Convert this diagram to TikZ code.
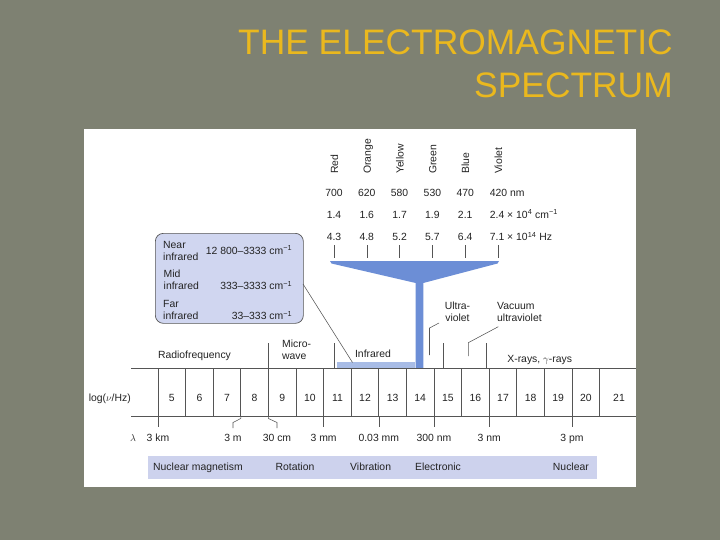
\documentclass[tikz,border=0pt]{standalone}
\usepackage{fontspec}
\setmainfont{Liberation Sans}
\definecolor{bg}{RGB}{126,129,114}
\definecolor{titlegold}{RGB}{234,184,30}
\definecolor{funnelblue}{RGB}{108,142,214}
\definecolor{irbar}{RGB}{168,188,230}
\definecolor{boxfill}{RGB}{208,214,240}
\definecolor{barfill}{RGB}{205,210,237}
\definecolor{ink}{RGB}{35,35,35}
\definecolor{rule}{RGB}{85,85,85}
\begin{document}
\begin{tikzpicture}[x=1pt,y=-1pt,
  every node/.style={inner sep=0pt,text=ink},
  lbl/.style={font=\fontsize{10.4}{12.3}\selectfont},
  titletext/.style={font=\fontsize{35.4}{42}\selectfont,text=titlegold},
  scaleline/.style={draw=rule,line width=0.7pt},
  thinline/.style={draw=rule,line width=0.55pt},
  collbl/.style={lbl,rotate=90,anchor=west,text height=7pt,text depth=2pt}]
% background and panel
\fill[bg] (0,0) rectangle (720,540);
\fill[white] (83.5,129.5) rectangle (636,487);
\useasboundingbox (0,0) rectangle (720,540);
% title
\node[titletext,anchor=base east] (title1) at (673,55) {THE ELECTROMAGNETIC};
\node[titletext,anchor=base east] (title2) at (673,98) {SPECTRUM};
% funnel
\fill[funnelblue] (330,261) -- (499,261) -- (497.5,263.5) -- (423.3,283) -- (423.3,368)
  -- (415.7,368) -- (415.7,283) -- (331.5,263.5) -- cycle;
% colour ticks and labels
\foreach \i/\c in {0/Red,1/Orange,2/Yellow,3/Green,4/Blue,5/Violet}{
  \coordinate (ctop\i) at (334+32.8*\i,245);
  \coordinate (cbot\i) at (334+32.8*\i,258);
  \draw[thinline] (ctop\i) -- (cbot\i);
  \node[collbl] (col\i) at (335.5+32.8*\i,174) {\c};
}
\foreach \i/\a/\b/\c in {0/700/1.4/4.3,1/620/1.6/4.8,2/580/1.7/5.2,3/530/1.9/5.7,4/470/2.1/6.4}{
  \node[lbl,anchor=base] (nm\i) at (334+32.8*\i,196.3) {\a};
  \node[lbl,anchor=base] (cm\i) at (334+32.8*\i,218.6) {\b};
  \node[lbl,anchor=base] (hz\i) at (334+32.8*\i,240.8) {\c};
}
\node[lbl,anchor=base west] (nm5) at (489.7,196.3) {420 nm};
\node[lbl,anchor=base west] (cm5) at (489.7,218.6) {2.4 × 10\textsuperscript{4} cm\textsuperscript{−1}};
\node[lbl,anchor=base west] (hz5) at (489.7,240.8) {7.1 × 10\textsuperscript{14} Hz};
% infrared box
\node[draw=rule,line width=0.7pt,fill=boxfill,rounded corners=8pt,minimum width=148pt,
  minimum height=90pt,anchor=north west] (irbox) at (155,233) {};
\node[lbl,align=left,anchor=base west] (near) at (163,260.6) {Near\\infrared};
\node[lbl,anchor=base east] (nearval) at (292.3,254.2) {12 800–3333 cm\textsuperscript{−1}};
\node[lbl,align=left,anchor=base west] (mid) at (163.5,289.6) {Mid\\infrared};
\node[lbl,anchor=base east] (midval) at (292.3,289.9) {333–3333 cm\textsuperscript{−1}};
\node[lbl,align=left,anchor=base west] (far) at (163,319.6) {Far\\infrared};
\node[lbl,anchor=base east] (farval) at (292.3,319.9) {33–333 cm\textsuperscript{−1}};
% infrared bar and connector
\node[fill=irbar,minimum width=78pt,minimum height=5.5pt,anchor=south west] (irbarn) at (337,368) {};
\coordinate (irstart) at (303,284);
\coordinate (irend) at (352.5,362.5);
\draw[thinline] (irstart) -- (irend);
% scale
\coordinate (axTL) at (131,368); \coordinate (axTR) at (636,368);
\coordinate (axBL) at (131,416); \coordinate (axBR) at (636,416);
\draw[scaleline] (axTL) -- (axTR);
\draw[scaleline] (axBL) -- (axBR);
\foreach \k in {0,...,16}{
  \coordinate (dt\k) at (158+27.6*\k,368);
  \coordinate (db\k) at (158+27.6*\k,416);
  \draw[scaleline] (dt\k) -- (db\k);
}
\foreach \k [evaluate=\k as \n using int(\k+5)] in {0,...,15}{
  \node[lbl,anchor=base] (num\n) at (171.8+27.6*\k,401.6) {\n};
}
\node[lbl,anchor=base] (num21) at (619,401.6) {21};
\node[lbl,anchor=base east] (logaxis) at (131,401.6) {log($\nu$/Hz)};
% region labels above
\foreach \x [count=\j] in {268.4,334,443.3,486}{
  \coordinate (vt\j) at (\x,343);
  \coordinate (vb\j) at (\x,368);
  \draw[thinline] (vt\j) -- (vb\j);
}
\node[lbl,anchor=base] (radio) at (194.5,358.6) {Radiofrequency};
\node[lbl,align=left,anchor=base west] (micro) at (282,359.6) {Micro-\\wave};
\node[lbl,anchor=base] (infra) at (373,357.6) {Infrared};
\node[lbl,align=center,anchor=base] (uv) at (457.5,321.9) {Ultra-\\violet};
\node[lbl,align=left,anchor=base west] (vuv) at (497,321.9) {Vacuum\\ultraviolet};
\node[lbl,anchor=base] (xray) at (539.7,362.6) {X-rays, $\gamma$-rays};
\coordinate (uv1) at (439,323); \coordinate (uv2) at (429.5,328); \coordinate (uv3) at (429.5,355);
\draw[thinline] (uv1) -- (uv2) -- (uv3);
\coordinate (vuv1) at (498.3,326.7); \coordinate (vuv2) at (468.3,342.7); \coordinate (vuv3) at (468.3,356);
\draw[thinline] (vuv1) -- (vuv2) -- (vuv3);
% wavelength ticks
\foreach \k/\t in {0/3 km,6/3 mm,8/0.03 mm,10/300 nm,12/3 nm,15/3 pm}{
  \coordinate (lt\k) at (158+27.6*\k,427);
  \draw[thinline] (db\k) -- (lt\k);
  \node[lbl,anchor=base] (lam\k) at (158+27.6*\k,441.5) {\t};
}
\coordinate (b3a) at (240.8,418.5); \coordinate (b3b) at (233,422.5); \coordinate (b3c) at (233,428);
\draw[thinline] (db3) -- (b3a) -- (b3b) -- (b3c);
\node[lbl,anchor=base] (lam3) at (233,441.5) {3 m};
\coordinate (b4a) at (268.4,418.5); \coordinate (b4b) at (277,422.5); \coordinate (b4c) at (277,428);
\draw[thinline] (db4) -- (b4a) -- (b4b) -- (b4c);
\node[lbl,anchor=base] (lam4) at (277,441.5) {30 cm};
\node[lbl,anchor=base] (lambda) at (133,441.5) {$\lambda$};
% bottom bar
\node[fill=barfill,minimum width=448.5pt,minimum height=23.5pt,anchor=north west] (bbar) at (148,455.5) {};
\node[lbl,anchor=base west] (nucmag) at (153,470.6) {Nuclear magnetism};
\node[lbl,anchor=base] (rot) at (295,470.6) {Rotation};
\node[lbl,anchor=base west] (vib) at (350,470.6) {Vibration};
\node[lbl,anchor=base west] (elec) at (415,470.6) {Electronic};
\node[lbl,anchor=base east] (nuc) at (589,470.6) {Nuclear};
\end{tikzpicture}
\end{document}
